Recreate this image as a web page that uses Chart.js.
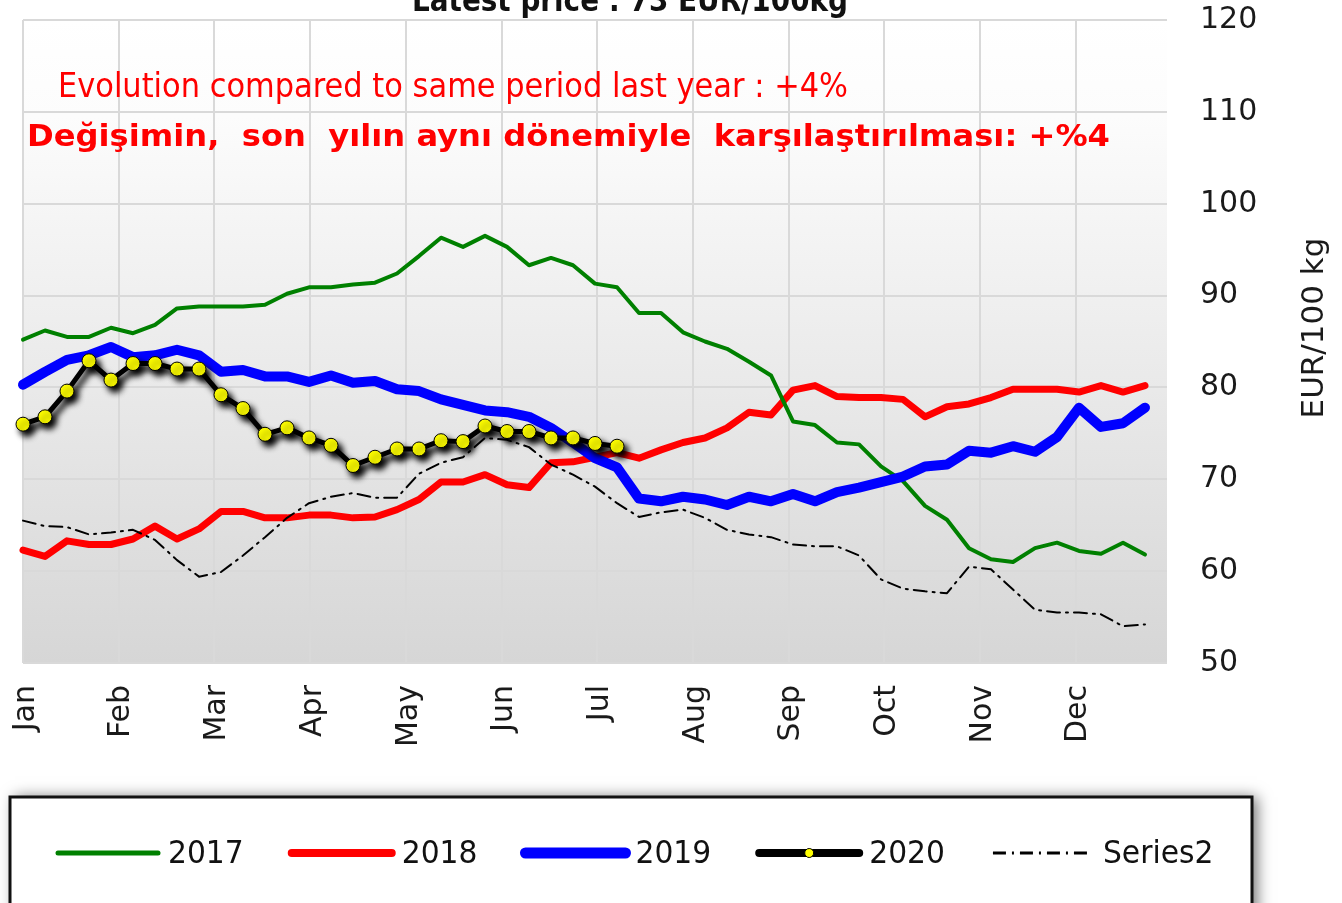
<!DOCTYPE html>
<html>
<head>
<meta charset="utf-8">
<title>Price evolution</title>
<script src="https://cdn.jsdelivr.net/npm/chart.js@4.4.1/dist/chart.umd.min.js"></script>
<style>
  html, body { margin: 0; padding: 0; background: #fff; }
  #wrap { width: 1342px; height: 903px; position: relative; }
</style>
</head>
<body>
<div id="wrap"><canvas id="priceChart"></canvas></div>
<script>
// Month tick labels (the x axis runs over 52 weekly quotes)
const months = ['Jan', 'Feb', 'Mar', 'Apr', 'May', 'Jun', 'Jul', 'Aug', 'Sep', 'Oct', 'Nov', 'Dec'];
const weeksPerYear = 52;
const weeksPerMonth = 4.35;

// Weekly prices, EUR/100 kg
const y2017 = [85.2, 86.2, 85.5, 85.5, 86.5, 85.9, 86.8, 88.6, 88.8, 88.8, 88.8, 89.0, 90.2, 90.9, 90.9, 91.2, 91.4, 92.4, 94.3, 96.3, 95.3, 96.5, 95.3, 93.3, 94.1, 93.3, 91.3, 90.9, 88.1, 88.1, 86.0, 85.0, 84.2, 82.8, 81.3, 76.3, 75.9, 74.0, 73.8, 71.4, 69.8, 67.1, 65.6, 62.5, 61.3, 61.0, 62.5, 63.1, 62.2, 61.9, 63.1, 61.8];
const y2018 = [62.3, 61.6, 63.3, 62.9, 62.9, 63.5, 64.9, 63.5, 64.6, 66.5, 66.5, 65.8, 65.8, 66.1, 66.1, 65.8, 65.9, 66.7, 67.8, 69.7, 69.7, 70.5, 69.4, 69.1, 71.8, 71.9, 72.4, 72.9, 72.3, 73.2, 74.0, 74.5, 75.6, 77.3, 77.0, 79.7, 80.2, 79.0, 78.9, 78.9, 78.7, 76.8, 77.9, 78.2, 78.9, 79.8, 79.8, 79.8, 79.5, 80.2, 79.5, 80.2];
const y2019 = [80.3, 81.7, 83.0, 83.5, 84.4, 83.3, 83.5, 84.1, 83.5, 81.7, 81.9, 81.2, 81.2, 80.6, 81.3, 80.5, 80.7, 79.8, 79.6, 78.7, 78.1, 77.5, 77.3, 76.8, 75.6, 74.0, 72.3, 71.3, 67.9, 67.6, 68.1, 67.8, 67.2, 68.1, 67.6, 68.4, 67.6, 68.6, 69.1, 69.7, 70.3, 71.4, 71.6, 73.1, 72.9, 73.6, 73.0, 74.6, 77.8, 75.7, 76.1, 77.8];
const y2020 = [76.0, 76.8, 79.6, 82.9, 80.8, 82.6, 82.6, 82.0, 82.0, 79.2, 77.7, 74.9, 75.6, 74.5, 73.7, 71.5, 72.4, 73.3, 73.3, 74.2, 74.1, 75.8, 75.2, 75.2, 74.5, 74.5, 73.9, 73.6];
const series2 = [65.5, 64.9, 64.8, 64.0, 64.2, 64.5, 63.4, 61.2, 59.4, 59.9, 61.7, 63.7, 65.8, 67.4, 68.1, 68.5, 68.0, 68.0, 70.6, 71.8, 72.4, 74.5, 74.3, 73.5, 71.6, 70.5, 69.2, 67.4, 65.9, 66.4, 66.7, 65.8, 64.5, 64.0, 63.7, 62.9, 62.7, 62.7, 61.7, 59.1, 58.1, 57.8, 57.6, 60.5, 60.2, 58.0, 55.8, 55.5, 55.5, 55.3, 54.0, 54.2];

const yTicks = [50, 60, 70, 80, 90, 100, 110, 120];

const titleText = 'Latest price : 73 EUR/100kg';
const noteEn = 'Evolution compared to same period last year : +4%';
const noteTr = 'Değişimin,  son  yılın aynı dönemiyle  karşılaştırılması: +%4';
const yAxisTitle = 'EUR/100 kg';

const FONT = '"DejaVu Sans", Verdana, sans-serif';
Chart.defaults.font.family = FONT;

function toPoints(values) {
    return values.map((v, i) => ({ x: i, y: v }));
}

// draw text at a font size, squeezed horizontally to a given width
function squeezedText(ctx, text, x, y, weight, size, width) {
    ctx.save();
    ctx.font = weight + ' ' + size + 'px ' + FONT;
    const sx = width / ctx.measureText(text).width;
    ctx.translate(x, y);
    ctx.scale(sx, 1);
    ctx.fillText(text, 0, 0);
    ctx.restore();
}

// grey gradient behind the plot
const plotBackground = {
    id: 'plotBackground',
    beforeDraw(chart) {
        const { ctx, chartArea: a } = chart;
        const g = ctx.createLinearGradient(0, a.top, 0, a.bottom);
        g.addColorStop(0, '#ffffff');
        g.addColorStop(0.15, '#fcfcfc');
        g.addColorStop(1, '#d6d6d6');
        ctx.save();
        ctx.fillStyle = g;
        ctx.fillRect(a.left, a.top, a.right - a.left, a.bottom - a.top);
        ctx.restore();
    }
};

// drop shadow for the 2020 series
const seriesShadow = {
    id: 'seriesShadow',
    beforeDatasetDraw(chart, args) {
        if (chart.data.datasets[args.index].label !== '2020') return;
        const ctx = chart.ctx;
        ctx.save();
        ctx.shadowColor = 'rgba(0,0,0,1)';
        ctx.shadowBlur = 6;
        ctx.shadowOffsetX = 4;
        ctx.shadowOffsetY = 5;
    },
    afterDatasetDraw(chart, args) {
        if (chart.data.datasets[args.index].label !== '2020') return;
        chart.ctx.restore();
    }
};

// title, red notes and the right axis title
const annotations = {
    id: 'annotations',
    afterDatasetsDraw(chart) {
        const ctx = chart.ctx;
        ctx.save();
        ctx.textBaseline = 'alphabetic';
        ctx.textAlign = 'left';

        ctx.fillStyle = '#111';
        squeezedText(ctx, titleText, 412, 11, 'bold', 32, 436);

        ctx.fillStyle = '#ff0000';
        squeezedText(ctx, noteEn, 58, 97, 'normal', 34, 790);
        squeezedText(ctx, noteTr, 27, 146, 'bold', 31, 1083);

        ctx.translate(1315, 328);
        ctx.rotate(-Math.PI / 2);
        ctx.textAlign = 'center';
        ctx.textBaseline = 'middle';
        ctx.fillStyle = '#1a1a1a';
        ctx.font = '31px ' + FONT;
        ctx.fillText(yAxisTitle, 0, 0);
        ctx.restore();
    }
};

// legend in a framed box under the chart
const boxLegend = {
    id: 'boxLegend',
    afterDraw(chart) {
        const ctx = chart.ctx;
        const top = 797, left = 10, w = 1242, h = 140;
        ctx.save();
        ctx.shadowColor = 'rgba(0,0,0,0.55)';
        ctx.shadowBlur = 14;
        ctx.shadowOffsetX = 5;
        ctx.shadowOffsetY = 0;
        ctx.fillStyle = '#fff';
        ctx.fillRect(left, top, w, h);
        ctx.shadowColor = 'transparent';
        ctx.lineWidth = 3;
        ctx.strokeStyle = '#111';
        ctx.strokeRect(left, top, w, h);

        const rowY = 853;
        const sample = 100;
        let x = 58;
        ctx.textBaseline = 'middle';
        ctx.textAlign = 'left';
        chart.data.datasets.forEach(ds => {
            ctx.save();
            ctx.lineCap = ds.borderDash ? 'butt' : 'round';
            ctx.strokeStyle = ds.borderColor;
            ctx.lineWidth = ds.label === '2020' ? 8 : ds.borderWidth + 1;
            ctx.setLineDash(ds.borderDash || []);
            ctx.beginPath();
            ctx.moveTo(x, rowY);
            ctx.lineTo(x + sample, rowY);
            ctx.stroke();
            if (ds.pointRadius) {
                ctx.setLineDash([]);
                ctx.beginPath();
                ctx.arc(x + sample / 2, rowY, 4.5, 0, Math.PI * 2);
                ctx.fillStyle = ds.pointBackgroundColor;
                ctx.fill();
                ctx.lineWidth = 1;
                ctx.strokeStyle = '#000';
                ctx.stroke();
            }
            ctx.restore();
            ctx.fillStyle = '#111';
            ctx.font = '32px ' + FONT;
            const tw = ctx.measureText(ds.label).width * 0.93;
            squeezedText(ctx, ds.label, x + sample + 10, rowY + 2, 'normal', 32, tw);
            x += sample + 10 + tw + 48;
        });
        ctx.restore();
    }
};

const ctx = document.getElementById('priceChart').getContext('2d');
new Chart(ctx, {
    type: 'line',
    data: {
        datasets: [
            { label: '2017', data: toPoints(y2017), borderColor: '#008000', borderWidth: 4, pointRadius: 0, order: 2 },
            { label: '2018', data: toPoints(y2018), borderColor: '#ff0000', borderWidth: 7, pointRadius: 0, order: 4 },
            { label: '2019', data: toPoints(y2019), borderColor: '#0000ff', borderWidth: 10, pointRadius: 0, order: 1 },
            { label: '2020', data: toPoints(y2020), borderColor: '#000000', borderWidth: 5,
              pointRadius: 7, pointBackgroundColor: '#ffff00', pointBorderColor: '#000', pointBorderWidth: 1, order: 0 },
            { label: 'Series2', data: toPoints(series2), borderColor: '#000000', borderWidth: 2,
              borderDash: [13, 6, 2, 6], pointRadius: 0, order: 3 }
        ]
    },
    options: {
        responsive: true,
        maintainAspectRatio: false,
        animation: false,
        layout: { padding: { left: 23, top: 20, right: 0, bottom: 0 } },
        datasets: {
            line: { tension: 0, clip: false, borderJoinStyle: 'round', borderCapStyle: 'round' }
        },
        plugins: {
            legend: { display: false },
            tooltip: { enabled: false }
        },
        scales: {
            x: {
                type: 'linear',
                min: 0,
                max: weeksPerYear,
                afterBuildTicks: scale => {
                    scale.ticks = months.map((m, i) => ({ value: i * weeksPerMonth }));
                },
                afterFit: scale => {
                    scale.height = 240;
                    scale.paddingLeft = 0;
                    scale.paddingRight = 0;
                },
                grid: { color: '#d9d9d9', lineWidth: 2, drawTicks: false },
                border: { display: false },
                ticks: {
                    autoSkip: false,
                    minRotation: 90,
                    maxRotation: 90,
                    padding: 22,
                    labelOffset: 3,
                    color: '#1a1a1a',
                    font: { size: 30 },
                    callback: (value, index) => months[index]
                }
            },
            y: {
                position: 'right',
                min: 50,
                max: 120,
                afterBuildTicks: scale => {
                    scale.ticks = yTicks.map(v => ({ value: v }));
                },
                afterFit: scale => {
                    scale.width = 175;
                    scale.paddingTop = 0;
                    scale.paddingBottom = 0;
                },
                grid: { color: '#d9d9d9', lineWidth: 2, drawTicks: false },
                border: { display: false },
                ticks: {
                    padding: 33,
                    color: '#1a1a1a',
                    font: { size: 30 }
                }
            }
        }
    },
    plugins: [plotBackground, seriesShadow, annotations, boxLegend]
});
</script>
</body>
</html>
